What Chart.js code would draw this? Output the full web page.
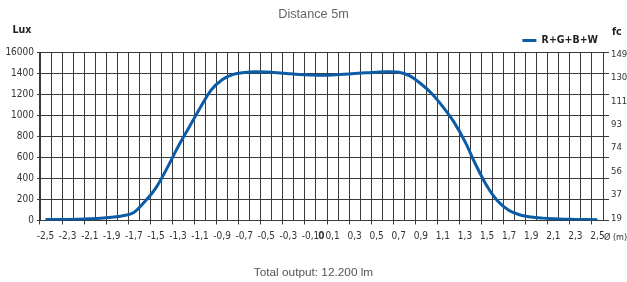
<!DOCTYPE html>
<html><head><meta charset="utf-8">
<script src="https://cdn.jsdelivr.net/npm/chart.js@4.4.1/dist/chart.umd.min.js"></script>
<style>html,body{margin:0;padding:0;background:#fff;}</style>
</head><body>
<canvas id="c" width="627" height="282" style="display:block;width:627px;height:282px"></canvas>
<script>
// Categories (distance from centre, m)
const positions = ['-2,5','-2,4','-2,3','-2,2','-2,1','-2,0','-1,9','-1,8','-1,7','-1,6','-1,5','-1,4','-1,3','-1,2','-1,1','-1,0','-0,9','-0,8','-0,7','-0,6','-0,5','-0,4','-0,3','-0,2','-0,1','0','0,1','0,2','0,3','0,4','0,5','0,6','0,7','0,8','0,9','1,0','1,1','1,2','1,3','1,4','1,5','1,6','1,7','1,8','1,9','2,0','2,1','2,2','2,3','2,4','2,5'];
// Illuminance (lux)
const lux = [8,9,10,12,15,20,30,45,75,180,310,495,700,885,1070,1240,1338,1390,1408,1415,1412,1405,1396,1388,1383,1380,1383,1390,1397,1404,1410,1414,1410,1375,1300,1205,1080,935,750,525,325,180,95,52,32,22,16,12,10,8,6];
// Tick labels
const shownXTicks = ['-2,5','-2,3','-2,1','-1,9','-1,7','-1,5','-1,3','-1,1','-0,9','-0,7','-0,5','-0,3','-0,1','0','0,1','0,3','0,5','0,7','0,9','1,1','1,3','1,5','1,7','1,9','2,1','2,3','2,5'];
const luxTickLabels = ['0','200','400','600','800','1000','1200','1400','16000'];
const fcTickLabels = ['19','37','56','74','93','111','130','149'];

const NARROW = '"DejaVu Sans Condensed","Liberation Sans Narrow","Arial Narrow",sans-serif';
const REGULAR = '"Liberation Sans",Arial,sans-serif';
const GRID = '#3a3a3a';
const LINE = '#0b5ba7';
const TICK = 10;

const extras = {
  id: 'extras',
  afterUpdate(chart) {
    const lg = chart.legend, a = chart.chartArea;
    if (!lg) return;
    const pad = lg.options.labels.padding;
    const shiftX = (a.right - 5) - (lg.right - pad);
    lg.left += shiftX; lg.right += shiftX;
    const itemCenter = lg.top + pad + 5;
    const dy = (a.top - 12) - itemCenter;
    lg.top += dy; lg.bottom += dy;
  },
  afterDraw(chart) {
    const {ctx, chartArea: a} = chart;
    ctx.save();
    ctx.fillStyle = '#222';
    ctx.font = 'bold 10.5px ' + NARROW;
    ctx.textBaseline = 'middle';
    ctx.textAlign = 'center';
    ctx.fillText('Lux', a.left - 18, a.top - 22);
    ctx.textAlign = 'left';
    ctx.fillText('fc', a.right + 9, a.top - 20);
    ctx.font = '9px ' + NARROW;
    ctx.fillStyle = '#333';
    ctx.fillText('Ø (m)', a.right + 1, a.bottom + 17);
    ctx.restore();
  }
};

new Chart(document.getElementById('c'), {
  type: 'line',
  data: {
    labels: positions,
    datasets: [{
      label: 'R+G+B+W',
      data: lux,
      borderColor: LINE,
      backgroundColor: LINE,
      borderWidth: 3,
      pointRadius: 0,
      cubicInterpolationMode: 'monotone',
      fill: false,
      xAxisID: 'x',
      yAxisID: 'y'
    }]
  },
  options: {
    responsive: false,
    animation: false,
    layout: {padding: 0},
    plugins: {
      title: {display: true, text: 'Distance 5m', color: '#666', font: {family: REGULAR, size: 12.7, weight: 'normal'}, padding: {top: 6.5, bottom: 6}},
      subtitle: {display: true, position: 'bottom', text: 'Total output: 12.200 lm', color: '#555', font: {family: REGULAR, size: 11.8, weight: 'normal'}, padding: {top: 21, bottom: 2.4}},
      legend: {display: true, position: 'top', align: 'end',
        labels: {usePointStyle: true, pointStyle: 'line', pointStyleWidth: 14, padding: 4, color: '#222', font: {family: NARROW, size: 10.5, weight: 'bold'}}},
      tooltip: {enabled: false}
    },
    scales: {
      x: {
        type: 'category', offset: true,
        grid: {offset: true, color: GRID, lineWidth: 1, tickLength: 4,
          tickColor: c => (c.index % 2 === 0 ? GRID : 'rgba(0,0,0,0)')},
        border: {color: GRID},
        ticks: {autoSkip: false, maxRotation: 0, minRotation: 0, padding: 6, color: '#333',
          font: c => ({family: NARROW, size: TICK, weight: (c && c.tick && c.tick.label === '0') ? 'bold' : 'normal'}),
          callback: function (v, i) { const l = positions[i]; return shownXTicks.includes(l) ? l : ''; }},
        afterFit: s => { s.height = 24; }
      },
      y: {
        position: 'left', min: 0, max: 1600,
        ticks: {stepSize: 200, padding: 3, color: '#333', font: {family: NARROW, size: TICK},
          callback: (v, i) => luxTickLabels[i]},
        grid: {color: GRID, tickLength: 3},
        border: {color: GRID},
        afterFit: s => { s.width = 40; }
      },
      yTicks: {
        position: 'right', weight: 0, min: 0, max: 1600,
        ticks: {display: false, stepSize: 200},
        grid: {drawOnChartArea: false, tickLength: 6, color: GRID},
        border: {display: false},
        afterFit: s => { s.width = 6; }
      },
      fc: {
        position: 'right', weight: 1, min: -0.1, max: 7.1,
        afterBuildTicks: s => { s.ticks = fcTickLabels.map((_, i) => ({value: i})); },
        ticks: {padding: 2, color: '#333', font: {family: NARROW, size: 9.5},
          callback: v => fcTickLabels[v]},
        grid: {display: false, drawTicks: false},
        border: {display: false},
        afterFit: s => { s.width = 18; }
      }
    }
  },
  plugins: [extras]
});
</script>
</body></html>
